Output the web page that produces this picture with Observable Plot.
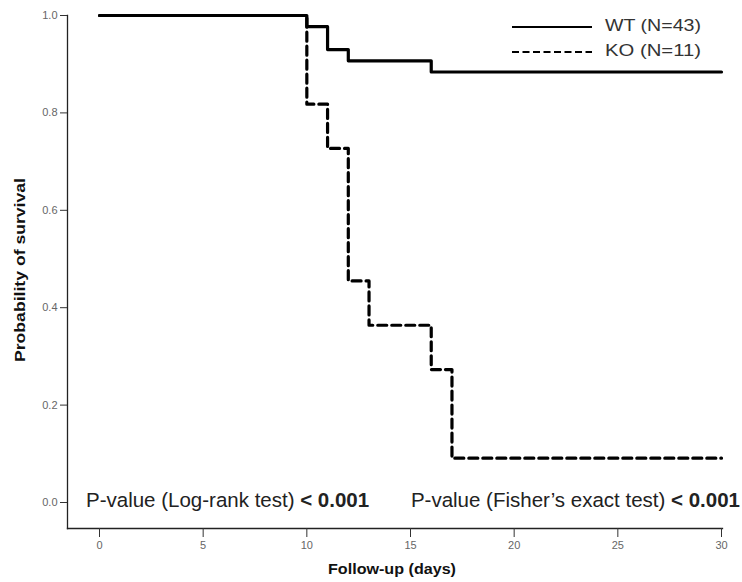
<!DOCTYPE html>
<html><head><meta charset="utf-8">
<script src="https://cdn.jsdelivr.net/npm/d3@7"></script>
<script src="https://cdn.jsdelivr.net/npm/@observablehq/plot@0.6"></script>
<style>body{margin:0;background:#fff;} #chart svg{font-family:"Liberation Sans",Arial,sans-serif;}</style>
</head><body><div id="chart"></div>
<script>
const wtDays = [0, 10, 11, 12, 16, 30];
const wtSurv = [1.0, 0.977, 0.930, 0.907, 0.884, 0.884];
const koDays = [0, 10, 11, 12, 13, 16, 17, 30];
const koSurv = [1.0, 0.818, 0.727, 0.455, 0.364, 0.273, 0.091, 0.091];
const xTicks = [0, 5, 10, 15, 20, 25, 30];
const yTicks = [0, 0.2, 0.4, 0.6, 0.8, 1.0];
const groups = ["WT (N=43)", "KO (N=11)"];
const pTexts = [["P-value (Log-rank test) ", "< 0.001"], ["P-value (Fisher\u2019s exact test) ", "< 0.001"]];

const wt = wtDays.map((d, i) => ({day: d, s: wtSurv[i]}));
const ko = koDays.map((d, i) => ({day: d, s: koSurv[i]}));

const W = 742, H = 582;
const plot = Plot.plot({
  width: W, height: H,
  marginLeft: 67, marginRight: 20, marginTop: 15, marginBottom: 54,
  style: {fontFamily: "Liberation Sans, Arial, sans-serif", background: "#fff"},
  x: {domain: [0, 30], range: [99, 721]},
  y: {domain: [0, 1], range: [502, 15]},
  marks: [
    Plot.frame({anchor: "left", stroke: "#222", strokeWidth: 1.3}),
    Plot.frame({anchor: "bottom", stroke: "#222", strokeWidth: 1.3}),
    Plot.axisY({ticks: yTicks, tickFormat: d3.format(".1f"), tickSize: 7, tickPadding: 3, fontSize: 11, color: "#666", stroke: "#333", label: null}),
    Plot.axisX({ticks: xTicks, tickSize: 9, tickPadding: 4, fontSize: 11, color: "#666", stroke: "#333", label: null}),
    Plot.line(wt, {x: "day", y: "s", curve: "step-after", stroke: "#000", strokeWidth: 3.2}),
    Plot.line(ko, {x: "day", y: "s", curve: "step-after", stroke: "#000", strokeWidth: 3.2, strokeDasharray: "9,5"})
  ]
});
document.getElementById("chart").appendChild(plot);

const svg = d3.select(plot);
// axis titles
svg.append("text").attr("transform", "translate(21,270) rotate(-90)").attr("text-anchor", "middle")
  .attr("dominant-baseline", "middle").attr("font-weight", "bold").attr("font-size", 15).attr("fill", "#111")
  .attr("textLength", 184).attr("lengthAdjust", "spacingAndGlyphs")
  .text("Probability of survival");
svg.append("text").attr("x", 392).attr("y", 570).attr("text-anchor", "middle")
  .attr("dominant-baseline", "middle").attr("font-weight", "bold").attr("font-size", 15).attr("fill", "#111")
  .attr("textLength", 128).attr("lengthAdjust", "spacingAndGlyphs")
  .text("Follow-up (days)");
// legend
const dashes = [null, "7,3.5"];
groups.forEach((g, i) => {
  const y = 27 + i * 25;
  svg.append("line").attr("x1", 512).attr("x2", 592).attr("y1", y).attr("y2", y)
    .attr("stroke", "#000").attr("stroke-width", 2).attr("stroke-dasharray", dashes[i]);
  svg.append("text").attr("x", 605).attr("y", y).attr("text-anchor", "start").attr("dominant-baseline", "middle")
    .attr("font-size", 17).attr("fill", "#333")
    .attr("textLength", 96).attr("lengthAdjust", "spacingAndGlyphs").text(g);
});
// p-values
const p1 = svg.append("text").attr("x", 86).attr("y", 507).attr("text-anchor", "start").attr("font-size", 20.5).attr("fill", "#222");
p1.append("tspan").text(pTexts[0][0]);
p1.append("tspan").attr("font-weight", "bold").text(pTexts[0][1]);
const p2 = svg.append("text").attr("x", 740).attr("y", 507).attr("text-anchor", "end").attr("font-size", 20.5).attr("fill", "#222");
p2.append("tspan").text(pTexts[1][0]);
p2.append("tspan").attr("font-weight", "bold").text(pTexts[1][1]);
</script></body></html>
